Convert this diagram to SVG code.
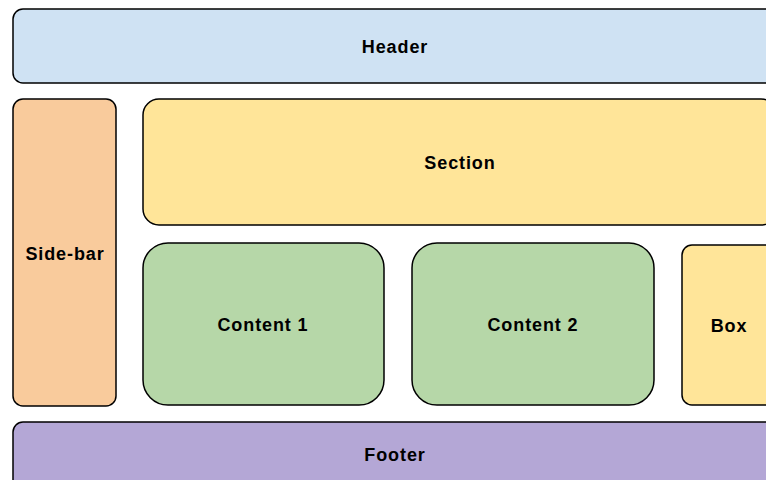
<svg xmlns="http://www.w3.org/2000/svg" width="766" height="480" viewBox="0 0 766 480">
<style>
rect{stroke:#000;stroke-width:1.5}
text{font-family:"Liberation Sans",Arial,sans-serif;font-weight:bold;font-size:18px;letter-spacing:0.9px;text-anchor:middle;dominant-baseline:central;fill:#000}
.blue{fill:#cfe2f3}.orange{fill:#f9cb9c}.yellow{fill:#ffe599}.green{fill:#b6d7a8}.purple{fill:#b4a7d6}
</style>
<rect width="766" height="480" fill="#fff" style="stroke:none"/>
<g id="header"><rect class="blue" x="13" y="9" width="764" height="74" rx="10"/><text x="395" y="47">Header</text></g>
<g id="sidebar"><rect class="orange" x="13" y="99" width="103" height="307" rx="10"/><text x="65" y="254">Side-bar</text></g>
<g id="section"><rect class="yellow" x="143" y="99" width="634" height="126" rx="16"/><text x="460" y="163">Section</text></g>
<g id="content1"><rect class="green" x="143" y="243" width="241" height="162" rx="25"/><text x="263" y="325">Content 1</text></g>
<g id="content2"><rect class="green" x="412" y="243" width="242" height="162" rx="25"/><text x="533" y="325">Content 2</text></g>
<g id="box"><rect class="yellow" x="682" y="245" width="94" height="160" rx="10"/><text x="729" y="326">Box</text></g>
<g id="footer"><rect class="purple" x="13" y="422" width="764" height="70" rx="10"/><text x="395" y="455">Footer</text></g>
<g id="connectors"></g>
</svg>
